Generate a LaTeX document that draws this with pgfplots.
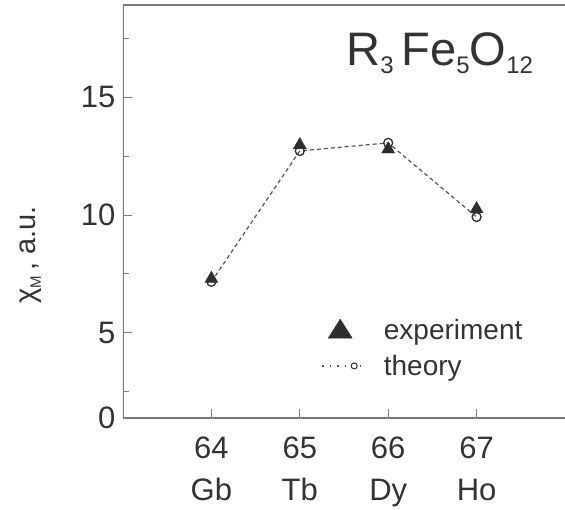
\documentclass[border=0pt]{standalone}
\usepackage{fontspec}
\setmainfont{Liberation Sans}
\usepackage{pgfplots}
\pgfplotsset{compat=1.18}
\definecolor{txt}{HTML}{333333}
\definecolor{axc}{HTML}{7A7A7A}
\definecolor{dat}{HTML}{2E2E2E}
\definecolor{lnc}{HTML}{555555}

\begin{document}
\begin{tikzpicture}[x=1pt,y=1pt]
\begin{axis}[
    at={(123pt,91pt)}, anchor=south west,
    scale only axis,
    width=442pt, height=413pt,
    xmin=63, xmax=68,
    ymin=1.38, ymax=18.93,
    axis line style={draw=none},
    xtick pos=bottom, ytick pos=left,
    tick align=inside,
    xtick={64,65,66,67},
    xticklabels={{64\\Gb},{65\\Tb},{66\\Dy},{67\\Ho}},
    ytick={1.38,5,10,15},
    yticklabels={0,5,10,15},
    minor ytick={2.5,7.5,12.5,17.5},
    major tick length=9pt,
    minor tick length=6pt,
    tick style={axc, line width=1pt},
    /pgf/number format/assume math mode=true,
    tick label style={text=txt},
    x tick label style={align=center, font=\fontsize{31}{42}\selectfont, yshift=-15pt},
    y tick label style={font=\fontsize{31}{36}\selectfont, xshift=-4pt},
    ylabel={\fontsize{29}{29}\selectfont χ\raisebox{-5pt}{\fontsize{15}{15}\selectfont M}\,, a.u.},
    ylabel style={at={(axis description cs:-0.208,0.395)}, anchor=center, text=txt},
    legend style={draw=none, fill=none, inner sep=0pt,
        at={(axis cs:65.244,4.36)}, anchor=west,
        font=\fontsize{28}{28}\selectfont, text=txt,
        cells={anchor=west}, row sep=14pt,
        nodes={inner sep=0pt}, column sep=16pt},
]
\addlegendimage{legend image code/.code={
    \path[draw=none, fill=none] (0pt,-10pt) rectangle (45pt,10pt);
    \fill[dat] (6pt,-8pt) -- (30pt,-8pt) -- (18pt,11pt) -- cycle;}}
\addlegendentry{experiment}
\addlegendimage{legend image code/.code={
    \path[draw=none, fill=none] (0pt,-10pt) rectangle (45pt,10pt);
    \draw[lnc, line width=1.3pt, dash pattern=on 1.5pt off 6pt] (0pt,0pt) -- (45pt,0pt);
    \draw[dat, fill=white, line width=1pt] (32pt,0pt) circle (3pt);}}
\addlegendentry{theory}

\addplot[forget plot, only marks, mark=triangle*, mark size=7.5pt,
    mark options={fill=dat, draw=dat}] coordinates {
    (64,7.30) (65,12.98) (66,12.80) (67,10.26)
};
\addplot[forget plot, lnc, line width=1.2pt, dash pattern=on 4pt off 3pt,
    mark=o, mark size=4.5pt,
    mark options={solid, fill=white, draw=dat, line width=1.3pt}] coordinates {
    (64,7.17) (65,12.73) (66,13.07) (67,9.92)
};

\draw[axc, line width=1.3pt] (rel axis cs:0,1) -- (rel axis cs:0,0) -- (rel axis cs:1,0);
\draw[axc, line width=1.3pt] (rel axis cs:0,1) -- (rel axis cs:1,1);

\node[anchor=base west, text=txt, inner sep=0pt] at (axis cs:65.526,16.34)
  {\fontsize{47}{47}\selectfont R\raisebox{-8pt}{\fontsize{24}{24}\selectfont 3}\,Fe\raisebox{-8pt}{\fontsize{24}{24}\selectfont 5}O\raisebox{-8pt}{\fontsize{24}{24}\selectfont 12}};
\end{axis}
\pgfresetboundingbox
\useasboundingbox (0,0) rectangle (565,509);
\end{tikzpicture}
\end{document}
